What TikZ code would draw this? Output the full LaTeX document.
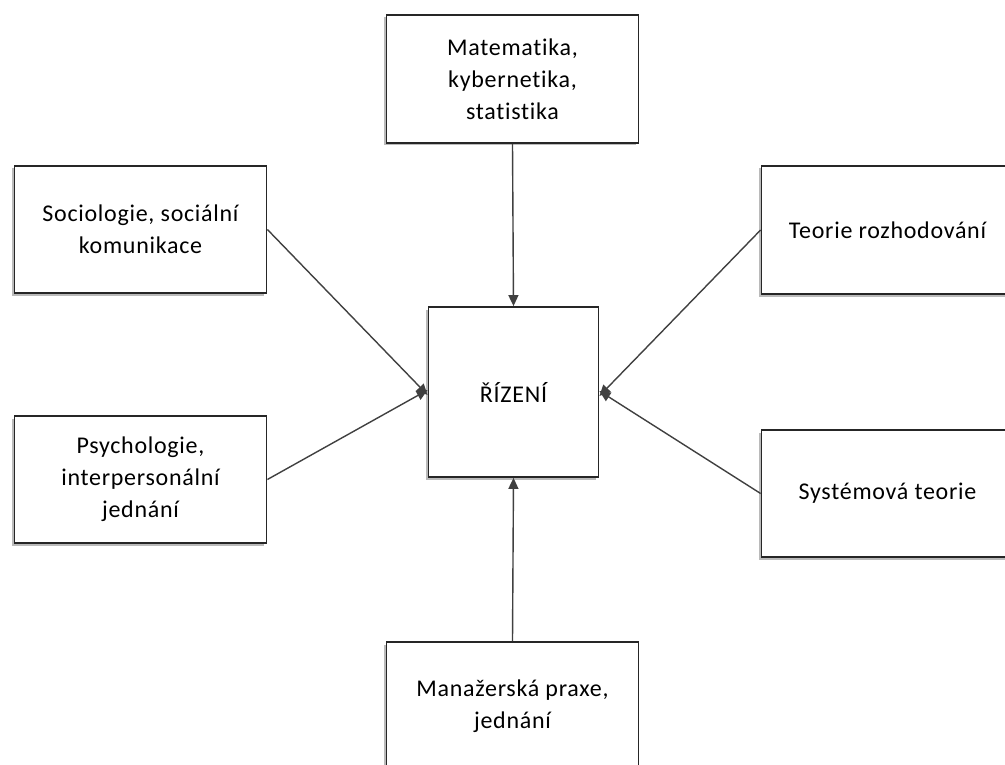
\documentclass[tikz,border=0pt]{standalone}
\usepackage{fontspec}
\setmainfont{Carlito}[Ligatures=NoCommon, LetterSpace=3]
\usetikzlibrary{arrows.meta,shadows}
\tikzset{
  box/.style={draw=black!85, line width=1.8pt, fill=white, minimum width=252pt, align=center,
    font=\fontsize{24}{32}\selectfont, inner sep=0pt,
    drop shadow={shadow xshift=-2.5pt, shadow yshift=-2.5pt, opacity=0.45, fill=black!60}},
  conn/.style={draw=black!75, line width=1.4pt, -{Triangle[length=11pt,width=10pt]}}
}
\begin{document}
\begin{tikzpicture}[x=1pt,y=-1pt]
\useasboundingbox (0,0) rectangle (1005,765);
\clip (0,0) rectangle (1005,765);
\node[box, minimum height=128pt] (mat) at (512.5,79) {Matematika,\\kybernetika,\\statistika};
\node[box, minimum width=170pt, minimum height=170pt] (riz) at (513.5,392) {ŘÍZENÍ};
\node[box, minimum height=127pt] (soc) at (140.5,229.5) {Sociologie, sociální\\komunikace};
\node[box, minimum height=127pt] (psy) at (140.5,479.5) {Psychologie,\\interpersonální\\jednání};
\node[box, minimum height=128pt] (teo) at (887.5,230) {Teorie rozhodování};
\node[box, minimum height=127pt] (sys) at (887.5,493.5) {Systémová teorie};
\node[box, minimum height=128pt] (man) at (512.5,706) {Manažerská praxe,\\jednání};
\coordinate (lt) at ([yshift=-3pt]riz.west);
\coordinate (lb) at ([yshift=2pt]riz.west);
\coordinate (rt) at ([yshift=-4pt]riz.east);
\coordinate (rb) at ([yshift=1pt]riz.east);
\draw[conn] (mat.south) -- (riz.north);
\draw[conn] (man.north) -- (riz.south);
\draw[conn] (soc.east) -- (lt);
\draw[conn] (psy.east) -- (lb);
\draw[conn] (teo.west) -- (rt);
\draw[conn] (sys.west) -- (rb);
\end{tikzpicture}
\end{document}
